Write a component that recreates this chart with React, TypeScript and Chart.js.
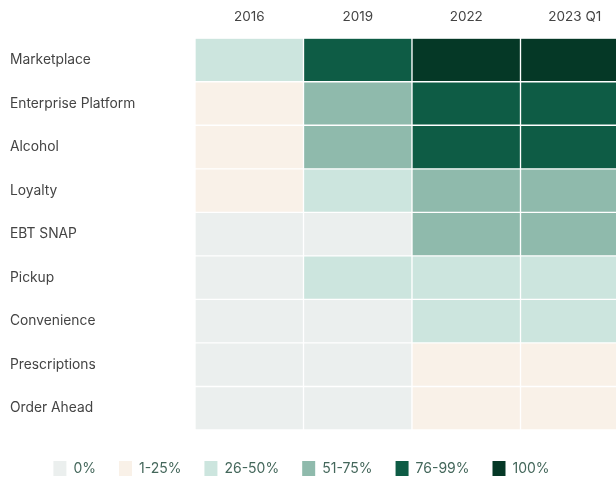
import React, { useEffect, useRef } from "react";
import { Chart, registerables } from "chart.js";

Chart.register(...registerables);

const columns = ["2016", "2019", "2022", "2023 Q1"];
const rows = [
  "Marketplace",
  "Enterprise Platform",
  "Alcohol",
  "Loyalty",
  "EBT SNAP",
  "Pickup",
  "Convenience",
  "Prescriptions",
  "Order Ahead",
];
// level index per row per column: 0=0%, 1=1-25%, 2=26-50%, 3=51-75%, 4=76-99%, 5=100%
const levels = [
  [2, 4, 5, 5],
  [1, 3, 4, 4],
  [1, 3, 4, 4],
  [1, 2, 3, 3],
  [0, 0, 3, 3],
  [0, 2, 2, 2],
  [0, 0, 2, 2],
  [0, 0, 1, 1],
  [0, 0, 1, 1],
];
const bucketLabels = ["0%", "1-25%", "26-50%", "51-75%", "76-99%", "100%"];
const bucketColors = ["#EBEFEE", "#F9F1E8", "#CCE5DE", "#8FBAAC", "#0E5C45", "#053826"];

const FONT = "Inter, 'Noto Sans', sans-serif";

const legendShift = {
  id: "legendShift",
  afterLayout(chart: any) {
    const lg = chart.legend;
    if (lg) {
      lg.left -= 18;
      lg.right -= 18;
    }
  },
};

export default function App() {
  const ref = useRef<HTMLCanvasElement | null>(null);

  useEffect(() => {
    document.body.style.margin = "0";
    document.body.style.overflow = "hidden";
    if (!ref.current) return;
    const chart = new Chart(ref.current, {
      type: "bar",
      plugins: [legendShift],
      data: {
        labels: columns,
        datasets: rows.map((r, i) => ({
          label: r,
          data: columns.map(() => 1),
          backgroundColor: levels[i].map((l) => bucketColors[l]),
          borderColor: "rgba(255,255,255,0.85)",
          borderWidth: 1,
          borderSkipped: false,
          barPercentage: 1,
          categoryPercentage: 1,
        })),
      },
      options: {
        animation: false,
        responsive: false,
        maintainAspectRatio: false,
        layout: { padding: { top: 4, left: 10, right: 0, bottom: -6 } },
        scales: {
          x: {
            type: "category",
            position: "top",
            stacked: true,
            grid: { display: false },
            border: { display: false },
            ticks: { font: { family: FONT, size: 13.5 }, color: "#444", padding: 5 },
          },
          y: {
            type: "linear",
            stacked: true,
            min: 0,
            max: rows.length,
            reverse: true,
            grid: { display: false },
            border: { display: false },
            afterBuildTicks: (scale: any) => {
              scale.ticks = rows.map((_, i) => ({ value: i + 0.5 }));
            },
            afterFit: (scale: any) => {
              scale.width = 185;
            },
            ticks: {
              crossAlign: "far",
              font: { family: FONT, size: 13.8 },
              color: "#444",
              autoSkip: false,
              callback: (v: any) => rows[Math.floor(Number(v))] ?? "",
            },
          },
        },
        plugins: {
          tooltip: { enabled: false },
          legend: {
            position: "bottom",
            title: { display: true, text: " ", padding: 0, font: { size: 8, lineHeight: 1 } },
            labels: {
              boxWidth: 13,
              boxHeight: 15,
              padding: 23,
              color: "#44675b",
              font: { family: FONT, size: 14 },
              generateLabels: () =>
                bucketLabels.map((t, i) => ({
                  text: t,
                  fillStyle: bucketColors[i],
                  strokeStyle: bucketColors[i],
                  lineWidth: 0,
                  hidden: false,
                  datasetIndex: i,
                  fontColor: "#44675b",
                })),
            },
            onClick: () => {},
          },
        },
      },
    });
    return () => chart.destroy();
  }, []);

  return (
    <div style={{ width: 616, height: 480, overflow: "hidden" }}>
      <canvas ref={ref} width={629} height={480} style={{ display: "block" }} />
    </div>
  );
}
